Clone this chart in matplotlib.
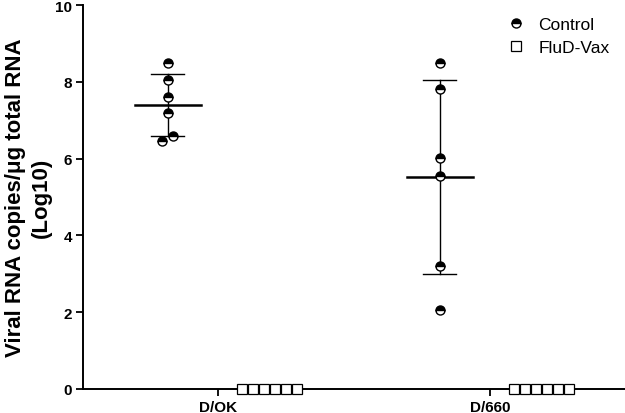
import numpy as np
import matplotlib
matplotlib.use('Agg')
from matplotlib import pyplot as plt

plt.rcParams['font.family'] = ['Liberation Sans', 'DejaVu Sans']

strains = ['D/OK', 'D/660']
control = [
    [8.50, 8.05, 7.60, 7.19, 6.60, 6.47],
    [8.50, 7.80, 6.02, 5.55, 3.21, 2.05],
]
vax = [
    [0, 0, 0, 0, 0, 0],
    [0, 0, 0, 0, 0, 0],
]


def swarm(values, center, step, ythresh):
    # simple centered swarm: points closer than ythresh in y share a row
    vals = np.array(values, dtype=float)
    order = np.argsort(-vals)
    xs = np.zeros(len(vals))
    clusters = []
    for i in order:
        if clusters and abs(vals[clusters[-1][-1]] - vals[i]) < ythresh:
            clusters[-1].append(i)
        else:
            clusters.append([i])
    for c in clusters:
        n = len(c)
        for k, i in enumerate(sorted(c, key=lambda j: vals[j])):
            xs[i] = center + (k - (n - 1) / 2) * step
    return xs, vals


fig = plt.figure(figsize=(6.25, 4.14), dpi=100)
ax = fig.add_axes([0.133, 0.058, 0.867, 0.9275])

step = 0.041
for g in range(len(strains)):
    cx = g - 0.185
    xs, ys = swarm(control[g], cx, step, 0.2)
    ax.plot(xs, ys, 'o', ms=6.5, fillstyle='top', color='black',
            markerfacecoloralt='white', mec='black', mew=1, zorder=3,
            clip_on=False)
    m = np.mean(ys)
    sd = np.std(ys, ddof=1)
    ax.plot([cx - 0.122, cx + 0.122], [m, m], color='black', lw=1.8, zorder=2)
    ax.plot([cx, cx], [m - sd, m + sd], color='black', lw=1, zorder=2)
    for v in (m - sd, m + sd):
        ax.plot([cx - 0.061, cx + 0.061], [v, v], color='black', lw=1, zorder=2)

    vx = g + 0.189
    xs, ys = swarm(vax[g], vx, step, 0.2)
    ax.plot(xs, ys, 's', ms=7.2, mfc='white', mec='black', mew=0.9,
            zorder=4, clip_on=False)

# legend handles
ax.plot([], [], 'o', ms=6.5, fillstyle='top', color='black',
        markerfacecoloralt='white', mec='black', mew=1, label='Control')
ax.plot([], [], 's', ms=7.2, mfc='white', mec='black', mew=0.9, label='FluD-Vax')
ax.legend(loc='upper right', bbox_to_anchor=(1.0, 1.01), frameon=False,
          fontsize=12.5, handletextpad=0.7, labelspacing=0.45, handlelength=1.2)

ax.set_xlim(-0.496, 1.496)
ax.set_ylim(0, 10)
ax.set_yticks([0, 2, 4, 6, 8, 10])
ax.set_xticks(range(len(strains)))
ax.set_xticklabels(strains, fontweight='bold', fontsize=11)
for lab in ax.get_yticklabels():
    lab.set_fontweight('bold')
    lab.set_fontsize(11)
ax.tick_params(axis='both', direction='out', length=5, width=1.3, pad=3)
ax.spines['top'].set_visible(False)
ax.spines['right'].set_visible(False)
ax.spines['left'].set_linewidth(1.4)
ax.spines['bottom'].set_linewidth(1.4)
ax.set_ylabel('Viral RNA copies/\u03bcg total RNA\n(Log10)', fontsize=16,
              fontweight='bold', labelpad=2, linespacing=1.3)

fig.savefig('out.png', dpi=100)
